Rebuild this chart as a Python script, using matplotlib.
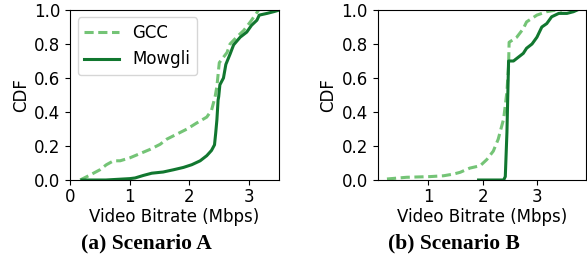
import numpy as np
import matplotlib.pyplot as plt

# --- CDF curves (bitrate in Mbps, cumulative fraction) ---
# Scenario A
gcc_a_x = [0.17, 0.34, 0.50, 0.61, 0.73, 0.84, 1.00, 1.17, 1.34, 1.51, 1.62, 1.79,
           1.96, 2.12, 2.29, 2.37, 2.43, 2.46, 2.50, 2.63, 2.68, 2.79, 2.91, 3.02,
           3.10, 3.16]
gcc_a_y = [0.0, 0.03, 0.06, 0.09, 0.113, 0.113, 0.13, 0.155, 0.18, 0.21, 0.24, 0.27,
           0.30, 0.335, 0.37, 0.41, 0.49, 0.55, 0.69, 0.75, 0.80, 0.84, 0.88, 0.93,
           0.97, 1.0]
mow_a_x = [0.20, 0.60, 1.00, 1.09, 1.23, 1.37, 1.56, 1.73, 1.90, 2.04, 2.18, 2.29, 2.37,
           2.42, 2.44, 2.46, 2.48, 2.49, 2.51, 2.57, 2.61, 2.68, 2.74, 2.85, 2.96,
           3.04, 3.13, 3.17, 3.30, 3.41, 3.51]
mow_a_y = [0.0, 0.0, 0.008, 0.012, 0.027, 0.04, 0.047, 0.06, 0.074, 0.09, 0.113, 0.143, 0.174,
           0.207, 0.276, 0.354, 0.47, 0.49, 0.56, 0.60, 0.68, 0.74, 0.795, 0.84, 0.87,
           0.91, 0.94, 0.97, 0.98, 0.99, 1.0]

# Scenario B
gcc_b_x = [0.24, 0.60, 1.03, 1.28, 1.46, 1.58, 1.76, 1.95, 2.07, 2.19, 2.28, 2.38,
           2.44, 2.47, 2.48, 2.62, 2.74, 2.80, 2.99, 3.17, 3.35, 3.45]
gcc_b_y = [0.006, 0.016, 0.02, 0.025, 0.035, 0.045, 0.07, 0.084, 0.12, 0.17, 0.24, 0.36,
           0.52, 0.67, 0.81, 0.84, 0.89, 0.93, 0.97, 0.99, 1.0, 1.0]
mow_b_x = [1.92, 2.38, 2.41, 2.44, 2.47, 2.56, 2.68, 2.74, 2.80, 2.90, 2.99, 3.08,
           3.17, 3.26, 3.39, 3.54, 3.66, 3.73]
mow_b_y = [0.0, 0.0, 0.02, 0.28, 0.70, 0.70, 0.73, 0.745, 0.775, 0.80, 0.84, 0.90,
           0.92, 0.96, 0.98, 0.98, 0.99, 1.0]

LIGHT = "#74c476"
DARK = "#11772f"

plt.rcParams["font.family"] = "DejaVu Sans"
plt.rcParams["font.size"] = 12

fig = plt.figure(figsize=(5.87, 2.54), dpi=100)
ax_a = fig.add_axes([70 / 587, 74 / 254, 209 / 587, 170 / 254])
ax_b = fig.add_axes([377.7 / 587, 74 / 254, 208.3 / 587, 170 / 254])

for ax, gx, gy, mx, my, xlim, xticks in [
    (ax_a, gcc_a_x, gcc_a_y, mow_a_x, mow_a_y, (0, 3.5), [0, 1, 2, 3]),
    (ax_b, gcc_b_x, gcc_b_y, mow_b_x, mow_b_y, (0.07, 3.89), [1, 2, 3]),
]:
    ax.plot(gx, gy, color=LIGHT, lw=2.2, ls=(0, (3, 1.5)), label="GCC")
    ax.plot(mx, my, color=DARK, lw=2.2, label="Mowgli")
    ax.set_xlim(*xlim)
    ax.set_ylim(0, 1)
    ax.set_xticks(xticks)
    ax.set_yticks([0, 0.2, 0.4, 0.6, 0.8, 1.0])
    ax.tick_params(axis="x", pad=2.5)
    ax.set_xlabel("Video Bitrate (Mbps)", labelpad=1.5)
    ax.set_ylabel("CDF", labelpad=3)

ax_a.legend(loc="upper left", fontsize=12, handlelength=2.1,
            bbox_to_anchor=(0.0, 1.0), borderaxespad=0.45)

cap_font = dict(family="Liberation Serif", weight="bold", fontsize=15.5,
                ha="center", va="center")
fig.text(146 / 587, 1 - 243 / 254, "(a) Scenario A", **cap_font)
fig.text(454 / 587, 1 - 243 / 254, "(b) Scenario B", **cap_font)

fig.savefig("out.png", dpi=100)
